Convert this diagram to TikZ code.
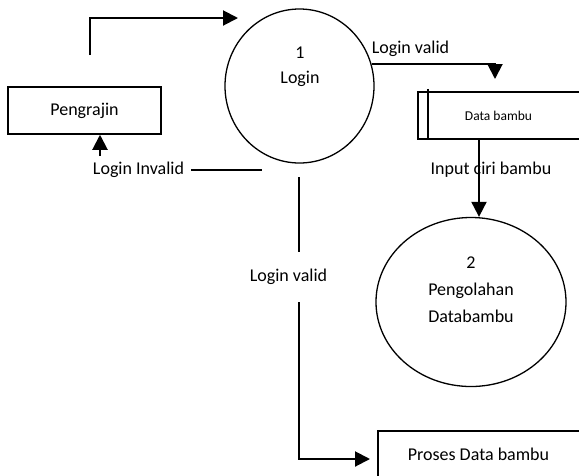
\documentclass[tikz,border=0pt]{standalone}
\usepackage{fontspec}
\setmainfont{Carlito}
\usetikzlibrary{arrows.meta,shapes.geometric}

\tikzset{
	flow/.style={line width=2pt, -{Triangle[length=15pt,width=15pt]}},
	wire/.style={line width=1.5pt},
	entity/.style={draw, line width=1.5pt, minimum width=153pt, minimum height=47pt, inner sep=0pt},
	process/.style={draw, ellipse, line width=1.3pt, inner sep=0pt},
	txt/.style={font=\fontsize{18}{20}\selectfont, inner sep=1pt},
}

\begin{document}
\begin{tikzpicture}[x=1pt,y=-1pt]

% frame %{{{2

	\useasboundingbox (0,0) rectangle (579,475);

% nodes %{{{2

	\node[entity, txt] (pengrajin) at (84.5,110.5) {Pengrajin};

	\node[process, minimum width=149pt, minimum height=154pt] (login) at (299.5,86) {};
	\node[txt] (loginnum) at (300,53) {1};
	\node[txt] (loginname) at (300,79) {Login};

	\node[minimum width=161pt, minimum height=47pt, inner sep=0pt,
		font=\fontsize{13.5}{15}\selectfont] (store) at (498.5,115.5) {Data bambu};

	\node[process, minimum width=190pt, minimum height=169pt] (olah) at (471,302) {};
	\node[txt] (olahnum) at (471,263) {2};
	\node[txt] (olahname) at (471,291) {Pengolahan};
	\node[txt] (olahdata) at (471,316) {Databambu};

	\node[minimum width=201pt, minimum height=46pt, inner sep=0pt, txt] (proses) at (478.5,454) {Proses Data bambu};

% data store and proses box %{{{2

	\draw[wire] (store.north east) -- (store.north west) -- (store.south west) -- (store.south east);
	\draw[wire] ([xshift=10pt,yshift=3pt]store.north west) -- ([xshift=10pt]store.south west);

	\draw[wire] (proses.north east) -- (proses.north west) -- (proses.south west);

% free ends %{{{2

	\coordinate (fromPengrajin) at (90,55);
	\coordinate (toLogin) at (238,18);
	\coordinate (toStore) at (495,79);
	\coordinate (invalidUp) at (100,156);
	\coordinate (invalidEnd) at (262,170);
	\coordinate (validA) at (299,177);
	\coordinate (validB) at (299,252);
	\coordinate (validC) at (299,302);
	\coordinate (toProses) at (370,459);

% labels %{{{2

	\node[txt] (validtop) at (410.5,49) {Login valid};
	\node[txt] (inputciri) at (491,170) {Input ciri bambu};
	\node[txt] (invalid) at (138.5,170) {Login Invalid};
	\node[txt] (validdown) at (288.5,277) {Login valid};

% flows %{{{2

	\draw[flow] (fromPengrajin) |- (toLogin);
	\draw[flow] (login.17) -| (toStore);
	\draw[flow] ([xshift=-19.5pt]store.south) -- ([xshift=-19.5pt]store.south |- olah.north);

	\draw[wire] ([xshift=6pt]invalid.east) -- (invalidEnd);
	\draw[flow] (invalidUp) -- (invalidUp |- pengrajin.south);

	\draw[wire] (validA) -- (validB);
	\draw[flow] (validC) |- (toProses);

% closing %{{{2

\end{tikzpicture}
\end{document}
